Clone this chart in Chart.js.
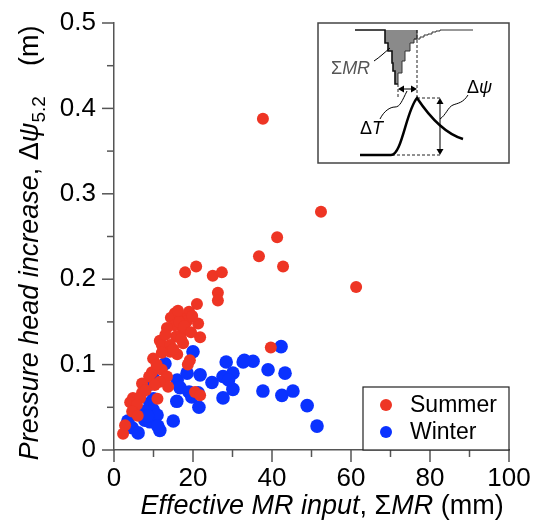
<!DOCTYPE html>
<html>
<head>
<meta charset="utf-8">
<script src="https://cdn.jsdelivr.net/npm/chart.js@4"></script>
<style>
  body { margin: 0; background: #fff; }
  #wrap { width: 539px; height: 520px; }
</style>
</head>
<body>
<div id="wrap"><canvas id="myChart" width="539" height="520"></canvas></div>
<script>
// effective MR input (mm) vs pressure head increase (m)
var summerX = [37.7, 52.4, 41.3, 36.7, 42.8, 61.3, 18.0, 20.8, 25.0, 27.3, 26.3, 26.3, 21.0, 19.0, 15.4,
  14.4, 16.7, 18.5, 21.3, 15.4, 13.4, 21.8, 17.5, 15.7, 11.6, 12.1, 14.2, 17.5, 14.2, 16.0, 12.1, 9.9,
  19.2, 18.7, 9.6, 12.1, 13.4, 8.9, 7.1, 13.7, 11.6, 10.3, 7.1, 4.8, 4.1, 6.6, 5.8, 4.6, 2.8, 2.3, 20.5,
  21.8, 39.7, 16.5, 17.8, 19.5, 10.8, 8.0, 11.0, 6.0, 15.0, 16.2, 19.8, 13.0, 17.0];
var summerY = [0.388, 0.279, 0.249, 0.227, 0.215, 0.191, 0.208, 0.215, 0.204, 0.208, 0.184, 0.175, 0.171,
  0.162, 0.160, 0.155, 0.156, 0.151, 0.148, 0.146, 0.143, 0.132, 0.140, 0.133, 0.128, 0.123, 0.123, 0.125,
  0.115, 0.112, 0.114, 0.107, 0.105, 0.100, 0.091, 0.094, 0.086, 0.086, 0.078, 0.074, 0.080, 0.076, 0.067,
  0.061, 0.056, 0.061, 0.053, 0.045, 0.029, 0.019, 0.068, 0.064, 0.120, 0.150, 0.145, 0.138, 0.100, 0.070,
  0.060, 0.040, 0.118, 0.163, 0.157, 0.135, 0.130];
var winterX = [20.0, 12.9, 9.9, 9.1, 16.0, 18.5, 16.7, 19.0, 21.3, 19.7, 21.8, 21.5, 15.9, 9.1, 9.9, 7.8,
  7.8, 9.1, 10.9, 3.5, 4.6, 6.1, 11.6, 15.0, 11.1, 24.8, 28.4, 27.6, 30.1, 30.1, 27.6, 32.7, 35.2, 39.0,
  37.7, 42.3, 43.3, 42.5, 45.3, 48.9, 51.4, 29.0, 33.0, 10.0, 8.5];
var winterY = [0.115, 0.101, 0.084, 0.077, 0.082, 0.090, 0.073, 0.068, 0.067, 0.062, 0.088, 0.050, 0.057,
  0.055, 0.047, 0.045, 0.035, 0.033, 0.041, 0.034, 0.026, 0.020, 0.023, 0.034, 0.028, 0.079, 0.103, 0.086,
  0.090, 0.071, 0.061, 0.103, 0.104, 0.094, 0.069, 0.121, 0.090, 0.064, 0.069, 0.052, 0.028, 0.082, 0.105,
  0.060, 0.040];
var seriesNames = ["Summer", "Winter"];
var seriesColors = ["#ee3524", "#0a32ff"];
var xTickLabels = ["0", "20", "40", "60", "80", "100"];
var yTickLabels = ["0", "0.1", "0.2", "0.3", "0.4", "0.5"];

function pairs(xs, ys) {
  return xs.map(function (x, i) { return { x: x, y: ys[i] }; });
}

var FONT = "'Liberation Sans', Arial, sans-serif";
var AXIS = "#555";

// tick marks: long at labelled values, short in between
var tickMarks = {
  id: "tickMarks",
  afterDraw: function (chart) {
    var ctx = chart.ctx, a = chart.chartArea;
    ctx.save();
    ctx.strokeStyle = AXIS;
    ctx.lineWidth = 1.5;
    chart.scales.x.ticks.forEach(function (t) {
      var px = chart.scales.x.getPixelForValue(t.value);
      var len = Math.round(t.value) % 20 === 0 ? 12 : 7;
      ctx.beginPath(); ctx.moveTo(px, a.bottom); ctx.lineTo(px, a.bottom + len); ctx.stroke();
    });
    chart.scales.y.ticks.forEach(function (t) {
      var py = chart.scales.y.getPixelForValue(t.value);
      var len = Math.round(t.value * 100) % 10 === 0 ? 12 : 7;
      ctx.beginPath(); ctx.moveTo(a.left, py); ctx.lineTo(a.left - len, py); ctx.stroke();
    });
    ctx.restore();
  }
};

// axis titles with mixed italic / subscript text
function drawParts(ctx, parts, x, y) {
  var w = 0;
  parts.forEach(function (p) { ctx.font = p.f; w += ctx.measureText(p.t).width; });
  var cx = x - w / 2;
  parts.forEach(function (p) {
    ctx.font = p.f;
    ctx.fillText(p.t, cx, y + (p.dy || 0));
    cx += ctx.measureText(p.t).width;
  });
}

var axisTitles = {
  id: "axisTitles",
  afterDraw: function (chart) {
    var ctx = chart.ctx, a = chart.chartArea;
    ctx.save();
    ctx.fillStyle = "#000";
    ctx.textBaseline = "alphabetic";
    var it = "italic 27px " + FONT, rg = "27px " + FONT;
    drawParts(ctx, [
      { t: "Effective MR input", f: it }, { t: ", ", f: rg }, { t: "\u03a3", f: rg },
      { t: "MR", f: it }, { t: " (mm)", f: rg }
    ], 322, 514);
    ctx.translate(38, 243);
    ctx.rotate(-Math.PI / 2);
    drawParts(ctx, [
      { t: "Pressure head increase", f: it }, { t: ", \u0394", f: rg }, { t: "\u03c8", f: it },
      { t: "5.2", f: "19px " + FONT, dy: 7 }, { t: "    (m)", f: rg }
    ], 0, 0);
    ctx.restore();
  }
};

// legend box in the lower right corner
var cornerLegend = {
  id: "cornerLegend",
  afterDraw: function (chart) {
    var ctx = chart.ctx, a = chart.chartArea;
    var bx = a.right - 146, by = a.bottom - 63;
    ctx.save();
    ctx.fillStyle = "#fff";
    ctx.fillRect(bx, by, 146, 63);
    ctx.strokeStyle = "#222";
    ctx.lineWidth = 1.2;
    ctx.strokeRect(bx, by, 146, 63);
    ctx.font = "23px " + FONT;
    ctx.textBaseline = "middle";
    chart.data.datasets.forEach(function (ds, i) {
      var cy = by + 18 + i * 27;
      ctx.fillStyle = ds.backgroundColor;
      ctx.beginPath(); ctx.arc(bx + 23, cy, 6, 0, Math.PI * 2); ctx.fill();
      ctx.fillStyle = "#000";
      ctx.fillText(ds.label, bx + 47, cy + 1);
    });
    ctx.restore();
  }
};

function arrowHead(ctx, x, y, dx, dy) {
  var s = 6, w = 3.5;
  ctx.beginPath();
  ctx.moveTo(x, y);
  ctx.lineTo(x - dx * s - dy * w, y - dy * s + dx * w);
  ctx.lineTo(x - dx * s + dy * w, y - dy * s - dx * w);
  ctx.closePath();
  ctx.fill();
}

// schematic inset in the upper right corner
var inset = {
  id: "inset",
  afterDraw: function (chart) {
    var ctx = chart.ctx, a = chart.chartArea;
    var ox = a.right - 191, oy = a.top;
    ctx.save();
    ctx.translate(ox, oy);
    ctx.fillStyle = "#fff";
    ctx.fillRect(0, 0, 191, 140);
    ctx.strokeStyle = "#444";
    ctx.lineWidth = 1.5;
    ctx.strokeRect(0, 0, 191, 140);

    // hyetograph
    var left = [[67, 7], [67, 20], [70, 20], [70, 28], [74, 28], [74, 40], [75, 40], [75, 48], [77, 48], [77, 61], [80, 61]];
    var right = [[80, 61], [80, 50], [84, 50], [84, 38], [87, 38], [87, 28], [92, 28], [92, 20], [96, 20], [96, 16], [99, 16], [99, 7]];
    ctx.fillStyle = "#8a8a8a";
    ctx.beginPath();
    left.concat(right).forEach(function (p, i) { i ? ctx.lineTo(p[0], p[1]) : ctx.moveTo(p[0], p[1]); });
    ctx.closePath();
    ctx.fill();
    ctx.strokeStyle = "#111";
    ctx.lineWidth = 1.6;
    ctx.beginPath();
    ctx.moveTo(37, 7);
    left.forEach(function (p) { ctx.lineTo(p[0], p[1]); });
    ctx.stroke();
    ctx.lineWidth = 1;
    ctx.strokeStyle = "#333";
    var tail = [[96, 16], [102, 16], [102, 14], [106, 14], [106, 12], [110, 12], [110, 11], [114, 11], [114, 9], [118, 9], [118, 8], [122, 8], [122, 7], [155, 7]];
    ctx.beginPath();
    right.forEach(function (p, i) { i ? ctx.lineTo(p[0], p[1]) : ctx.moveTo(p[0], p[1]); });
    ctx.moveTo(tail[0][0], tail[0][1]);
    tail.forEach(function (p) { ctx.lineTo(p[0], p[1]); });
    ctx.stroke();

    // dashed guides
    ctx.setLineDash([3, 2]);
    ctx.strokeStyle = "#222";
    ctx.lineWidth = 1;
    ctx.beginPath();
    ctx.moveTo(99, 7); ctx.lineTo(99, 75);
    ctx.moveTo(80, 61); ctx.lineTo(80, 75);
    ctx.moveTo(99, 75); ctx.lineTo(124, 75);
    ctx.moveTo(74, 132); ctx.lineTo(124, 132);
    ctx.stroke();
    ctx.setLineDash([]);

    // arrows
    ctx.fillStyle = "#000";
    ctx.lineWidth = 1.2;
    ctx.beginPath(); ctx.moveTo(82, 66); ctx.lineTo(97, 66); ctx.stroke();
    arrowHead(ctx, 80, 66, -1, 0); arrowHead(ctx, 99, 66, 1, 0);
    ctx.beginPath(); ctx.moveTo(122, 77); ctx.lineTo(122, 130); ctx.stroke();
    arrowHead(ctx, 122, 75, 0, -1); arrowHead(ctx, 122, 132, 0, 1);

    // hydrograph
    ctx.lineWidth = 2.5;
    ctx.strokeStyle = "#000";
    ctx.beginPath();
    ctx.moveTo(42, 132); ctx.lineTo(73, 132);
    ctx.bezierCurveTo(84, 132, 88, 88, 99, 75);
    ctx.bezierCurveTo(109, 90, 125, 110, 145, 116);
    ctx.stroke();

    // leaders
    ctx.lineWidth = 1;
    ctx.beginPath();
    ctx.moveTo(56, 38); ctx.bezierCurveTo(62, 34, 66, 30, 72, 25);
    ctx.moveTo(62, 96); ctx.bezierCurveTo(66, 88, 72, 84, 77, 84);
    ctx.bezierCurveTo(82, 84, 84, 78, 89, 68);
    ctx.moveTo(150, 72); ctx.bezierCurveTo(145, 80, 140, 80, 135, 82);
    ctx.bezierCurveTo(130, 84, 128, 92, 122, 96);
    ctx.stroke();

    // labels
    ctx.textBaseline = "alphabetic";
    ctx.fillStyle = "#555";
    ctx.font = "18px " + FONT;
    ctx.fillText("\u03a3", 13, 51);
    var sw = ctx.measureText("\u03a3").width;
    ctx.font = "italic 18px " + FONT;
    ctx.fillText("MR", 13 + sw, 51);
    ctx.fillStyle = "#000";
    ctx.font = "18px " + FONT;
    ctx.fillText("\u0394", 42, 111);
    var dw = ctx.measureText("\u0394").width;
    ctx.font = "italic 18px " + FONT;
    ctx.fillText("T", 42 + dw, 111);
    ctx.font = "18px " + FONT;
    ctx.fillText("\u0394", 149, 70);
    ctx.font = "italic 18px " + FONT;
    ctx.fillText("\u03c8", 149 + dw, 70);
    ctx.restore();
  }
};

const ctx = document.getElementById("myChart");
const data = {
  datasets: [
    {
      label: seriesNames[0],
      data: pairs(summerX, summerY),
      backgroundColor: seriesColors[0],
      borderWidth: 0,
      pointRadius: 6
    },
    {
      label: seriesNames[1],
      data: pairs(winterX, winterY),
      backgroundColor: seriesColors[1],
      borderWidth: 0,
      pointRadius: 6.8
    }
  ]
};

const config = {
  type: "scatter",
  data: data,
  options: {
    responsive: false,
    animation: false,
    layout: { padding: { top: 23, right: 30, left: 0, bottom: 0 } },
    plugins: { legend: { display: false }, tooltip: { enabled: false } },
    scales: {
      x: {
        min: 0, max: 100,
        grid: { display: false, drawTicks: false },
        border: { display: true, color: AXIS, width: 1.5 },
        ticks: {
          stepSize: 10, autoSkip: false, maxRotation: 0, padding: 13,
          color: "#000", font: { family: FONT, size: 26 },
          callback: function (v) { return Math.round(v) % 20 === 0 ? xTickLabels[Math.round(v) / 20] : ""; }
        },
        afterFit: function (s) { s.height = 70; s.paddingRight = 0; s.paddingLeft = 0; }
      },
      y: {
        min: 0, max: 0.5,
        grid: { display: false, drawTicks: false },
        border: { display: true, color: AXIS, width: 1.5 },
        ticks: {
          stepSize: 0.05, autoSkip: false, padding: 18,
          color: "#000", font: { family: FONT, size: 26 },
          callback: function (v) {
            var k = Math.round(v * 100);
            return k % 10 === 0 ? yTickLabels[k / 10] : "";
          }
        },
        afterFit: function (s) { s.width = 114; s.paddingTop = 0; s.paddingBottom = 0; }
      }
    }
  },
  plugins: [tickMarks, axisTitles, cornerLegend, inset]
};

const myChart = new Chart(ctx, config);
</script>
</body>
</html>
